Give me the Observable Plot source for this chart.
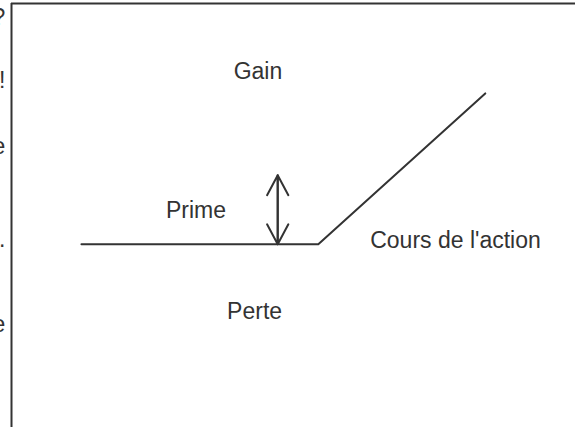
<!DOCTYPE html>
<html>
<head>
<meta charset="utf-8">
<script src="https://cdn.jsdelivr.net/npm/d3@7"></script>
<script src="https://cdn.jsdelivr.net/npm/@observablehq/plot@0.6"></script>
<style>
  html, body { margin: 0; padding: 0; background: #fff; }
  svg { display: block; }
</style>
</head>
<body>
<div id="chart"></div>
<script>
// Payoff of a long call: stock price (x) vs profit (y), abstract units
const stockPrice = [12.4, 54.4, 84.0];
const payoff = [0, 0, 35.6];
// Premium arrow (at x = arrowX, from 0 up to premium)
const arrowX = 47.2;
const premium = 16.3;
// Labels
const labelTexts = ["Gain", "Prime", "Cours de l'action", "Perte"];
const labelX = [43.7, 32.7, 63.6, 43.1];
const labelY = [40.8, 8.0, 0.9, -15.8];
const labelAnchor = ["middle", "middle", "start", "middle"];
// Clipped fragments at the far left edge
const edgeTexts = ["?", "!", "e", ".", "e"];
const edgeY = [53.5, 38.5, 23.0, 1.0, -19.0];

const line = stockPrice.map((x, i) => ({x, y: payoff[i]}));
const labels = labelTexts.map((t, i) => ({t, x: labelX[i], y: labelY[i], a: labelAnchor[i]}));
const edges = edgeTexts.map((t, i) => ({t, y: edgeY[i]}));
const ink = "#333";

const chart = Plot.plot({
  width: 575,
  height: 430,
  marginLeft: 11,
  marginRight: 0,
  marginTop: 3,
  marginBottom: 3,
  x: {domain: [0, 100], axis: null},
  y: {domain: [-43.2, 56.8], axis: null},
  style: {fontFamily: "'Liberation Sans', Arial, Helvetica, sans-serif", background: "#fff"},
  marks: [
    Plot.ruleX([0], {stroke: ink, strokeWidth: 2}),
    Plot.ruleY([56.8], {stroke: ink, strokeWidth: 2}),
    Plot.line(line, {x: "x", y: "y", stroke: ink, strokeWidth: 2}),
    Plot.arrow([{x: arrowX, y1: 0, y2: premium}], {
      x1: "x", x2: "x", y1: "y1", y2: "y2", stroke: ink, strokeWidth: 2,
      headLength: 17, headAngle: 56
    }),
    Plot.arrow([{x: arrowX, y1: premium, y2: 0}], {
      x1: "x", x2: "x", y1: "y1", y2: "y2", stroke: ink, strokeWidth: 2,
      headLength: 17, headAngle: 56
    }),
    ...["middle", "start"].map(a => Plot.text(labels.filter(d => d.a === a), {
      x: "x", y: "y", text: "t", textAnchor: a, fontSize: 23, fill: ink
    })),
    Plot.text(edges, {x: () => -1.1, y: "y", text: "t", textAnchor: "end", fontSize: 23, fill: ink})
  ]
});
document.getElementById("chart").appendChild(chart);
</script>
</body>
</html>
